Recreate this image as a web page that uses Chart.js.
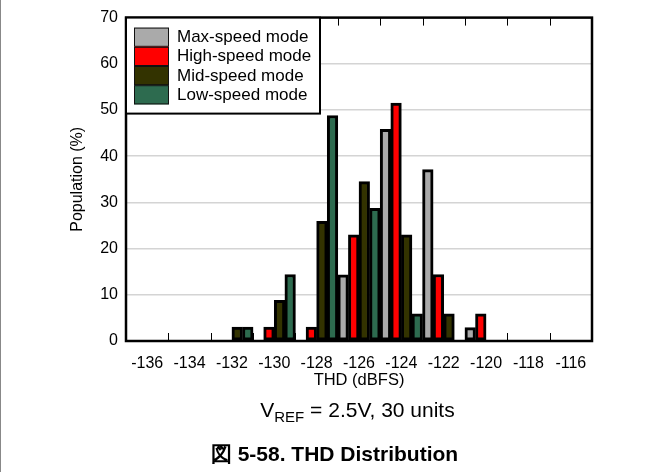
<!DOCTYPE html>
<html>
<head>
<meta charset="utf-8">
<script src="https://cdn.jsdelivr.net/npm/chart.js@4.4.1/dist/chart.umd.min.js"></script>
<style>
  html, body { margin: 0; padding: 0; background: #fff; }
  #wrap { position: relative; width: 663px; height: 472px; border-left: 1px solid #888; box-sizing: border-box; }
  canvas { position: absolute; left: 0; top: 0; }
  .note { position: absolute; left: 0; width: 663px; text-align: center; font-family: "Liberation Sans", Arial, sans-serif; color: #000; }
  #sub { top: 398px; left: 25px; width: 663px; font-size: 21px; }
  #sub sub { font-size: 15px; vertical-align: -5px; line-height: 0; }
  #cap { top: 440px; left: 2px; font-size: 21px; font-weight: bold; }
</style>
</head>
<body>
<div id="wrap">
  <canvas id="myChart" width="662" height="472"></canvas>
  <div class="note" id="sub">V<sub>REF</sub> = 2.5V, 30 units</div>
  <div class="note" id="cap">図 5-58. THD Distribution</div>
</div>
<script>
// THD bins (dBFS)
const categories = ['-136', '-134', '-132', '-130', '-128', '-126', '-124', '-122', '-120', '-118', '-116'];
// population (%) per mode
const maxSpeed  = [0, 0, 0, 0,   0,    14.3, 45.8, 37.1, 2.9, 0, 0];
const highSpeed = [0, 0, 0, 3,   3,    23,   51.5, 14.4, 5.9, 0, 0];
const midSpeed  = [0, 0, 3, 8.8, 25.9, 34.5, 23,   5.9,  0,   0, 0];
const lowSpeed  = [0, 0, 3, 14.4, 48.8, 28.7, 5.9, 0,    0,   0, 0];
const yTicks = [0, 10, 20, 30, 40, 50, 60, 70];

const seriesNames = ['Max-speed mode', 'High-speed mode', 'Mid-speed mode', 'Low-speed mode'];
const seriesColors = ['#aaaaaa', '#ff0000', '#333300', '#2d6b4f'];
const FONT = '"Liberation Sans", Arial, sans-serif';

// frame, inner tick marks and the boxed legend
const framePlugin = {
  id: 'frame',
  afterDraw(chart) {
    const ctx = chart.ctx;
    const a = chart.chartArea;
    const xs = chart.scales.x;
    ctx.save();
    ctx.strokeStyle = '#000';
    ctx.lineWidth = 1;
    for (let i = 1; i < categories.length; i++) {
      const bx = Math.round((xs.getPixelForValue(i - 1) + xs.getPixelForValue(i)) / 2) + 0.5;
      ctx.beginPath();
      ctx.moveTo(bx, a.bottom); ctx.lineTo(bx, a.bottom - 8);
      ctx.moveTo(bx, a.top); ctx.lineTo(bx, a.top + 8);
      ctx.stroke();
    }
    ctx.lineWidth = 2.5;
    ctx.strokeRect(a.left, a.top, a.right - a.left, a.bottom - a.top);

    // legend
    const lx = a.left, ly = a.top;
    ctx.fillStyle = '#fff';
    ctx.fillRect(lx, ly, 194, 96);
    ctx.lineWidth = 2;
    ctx.strokeRect(lx, ly, 194, 96);
    ctx.font = '17px ' + FONT;
    ctx.textBaseline = 'middle';
    seriesNames.forEach((name, i) => {
      const sy = ly + 10 + i * 19.2;
      ctx.fillStyle = seriesColors[i];
      ctx.fillRect(lx + 8, sy, 35, 19.2);
      ctx.lineWidth = 1;
      ctx.strokeStyle = '#111';
      ctx.strokeRect(lx + 8.5, sy + 0.5, 34, 18.2);
      ctx.fillStyle = '#000';
      ctx.fillText(name, lx + 51, sy + 10);
    });
    ctx.restore();
  }
};

const ctx = document.getElementById('myChart').getContext('2d');
const myChart = new Chart(ctx, {
  type: 'bar',
  data: {
    labels: categories,
    datasets: [maxSpeed, highSpeed, midSpeed, lowSpeed].map((vals, i) => ({
      label: seriesNames[i],
      data: vals,
      backgroundColor: seriesColors[i],
      borderColor: '#000',
      borderWidth: 3,
      borderSkipped: false,
      barPercentage: 1,
      categoryPercentage: 1
    }))
  },
  options: {
    responsive: false,
    animation: false,
    layout: { padding: { left: 0, top: 17, right: 71, bottom: 0 } },
    plugins: {
      legend: { display: false },
      tooltip: { enabled: false }
    },
    scales: {
      x: {
        grid: { display: false, drawTicks: false },
        border: { display: false },
        ticks: { color: '#000', font: { family: FONT, size: 16 }, padding: 13, maxRotation: 0, autoSkip: false },
        title: { display: true, text: 'THD (dBFS)', color: '#000', font: { family: FONT, size: 16.5 }, padding: { top: 0, bottom: 82 } },
        afterFit: (scale) => { scale.height = 131; }
      },
      y: {
        min: 0,
        max: 70,
        afterBuildTicks: (scale) => { scale.ticks = yTicks.map(v => ({ value: v })); },
        grid: { color: '#d4d4d4', lineWidth: 1.5, drawTicks: false },
        border: { display: false },
        ticks: { color: '#000', font: { family: FONT, size: 16 }, padding: 8 },
        title: { display: true, text: 'Population (%)', color: '#000', font: { family: FONT, size: 16 }, padding: { top: 67, bottom: 0 } },
        afterFit: (scale) => { scale.width = 125; }
      }
    }
  },
  plugins: [framePlugin]
});
</script>
</body>
</html>
